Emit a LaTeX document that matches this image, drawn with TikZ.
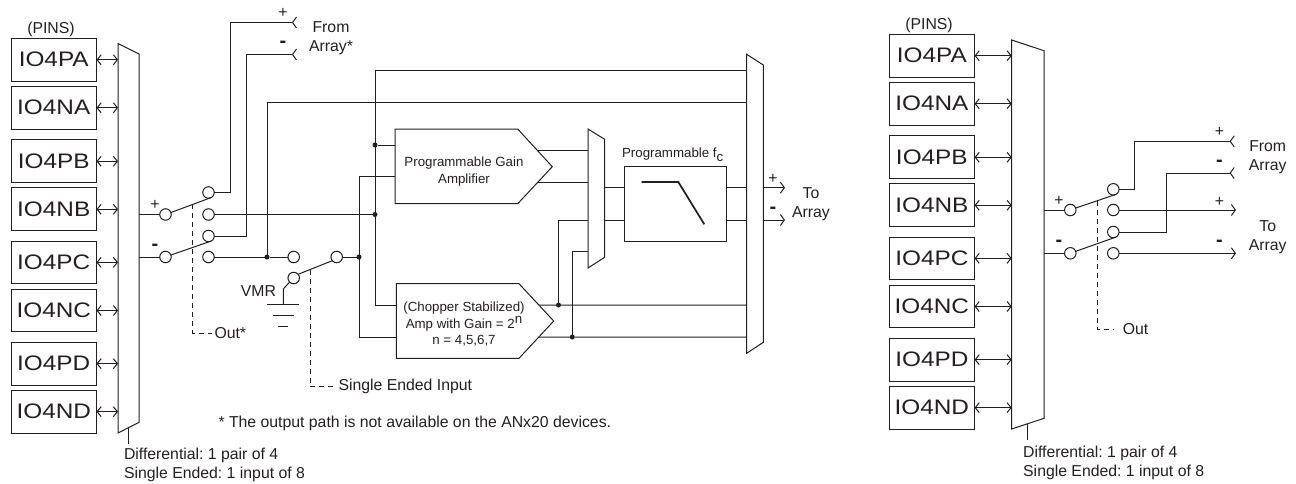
\documentclass[tikz,border=0pt]{standalone}
\usepackage{fontspec}
\setmainfont{Liberation Sans}
\newfontfamily\pinfont[FakeStretch=1.16]{Liberation Sans}
\usetikzlibrary{arrows.meta,positioning}
\definecolor{ink}{HTML}{231F20}
\frenchspacing
\newcommand{\lblfont}{\fontsize{15.8}{19}\selectfont}
\newcommand{\ampfont}{\fontsize{13.3}{16.5}\selectfont}
\tikzset{
  pinbox/.style={draw=ink, minimum width=85.5pt, minimum height=42.7pt, inner sep=0pt, outer sep=0pt, text=ink, font=\pinfont\fontsize{21}{24}\selectfont},
  contact/.style={draw=ink, circle, fill=white, minimum size=11.5pt, inner sep=0pt, outer sep=0pt},
  junction/.style={fill=ink, circle, minimum size=5pt, inner sep=0pt, outer sep=0pt},
  lbl/.style={font=\lblfont, text=ink, inner sep=0pt, yshift=-1.5pt},
  signlbl/.style={font=\lblfont, text=ink, inner sep=0pt, yshift=-2pt},
  minuslbl/.style={font=\fontsize{20}{20}\selectfont\bfseries, text=ink, inner sep=0pt, yshift=-2pt},
  amptxt/.style={font=\ampfont, text=ink, inner sep=0pt, align=center, yshift=-1.5pt},
  pinarrow/.style={{Straight Barb[length=4pt,width=10pt]}-{Straight Barb[length=4pt,width=10pt]}},
  outarrow/.style={-{Straight Barb[length=4pt,width=11pt]}},
  inarrow/.style={-{Straight Barb[reversed,length=4pt,width=11pt]}},
  ctrl/.style={dash pattern=on 5pt off 4pt}
}

\begin{document}
\begin{tikzpicture}[x=1pt,y=-1pt,line width=1pt,color=ink]
\useasboundingbox (0,0) rectangle (1296,483);

% Pins, left
\node[lbl] (pinsa) at (51,28) {(PINS)};
\node[pinbox] (pa) at (53.75,59.75) {IO4PA};
\node[pinbox] (na) at (53.75,107.75) {IO4NA};
\node[pinbox] (pb) at (53.75,161.25) {IO4PB};
\node[pinbox] (nb) at (53.75,209.25) {IO4NB};
\node[pinbox] (pc) at (53.75,262.35) {IO4PC};
\node[pinbox] (nc) at (53.75,310.5) {IO4NC};
\node[pinbox] (pd) at (53.75,363.65) {IO4PD};
\node[pinbox] (nd) at (53.75,411.65) {IO4ND};

% Input mux, left
\coordinate (ma) at (118,43.5);
\coordinate (mb) at (139,54);
\draw (ma)--(mb)--(139,422.3)-- coordinate[pos=.5] (mtick) (118,433)--cycle;
\draw[pinarrow] (pa.east)--(pa.east -| ma);
\draw[pinarrow] (na.east)--(na.east -| ma);
\draw[pinarrow] (pb.east)--(pb.east -| ma);
\draw[pinarrow] (nb.east)--(nb.east -| ma);
\draw[pinarrow] (pc.east)--(pc.east -| ma);
\draw[pinarrow] (nc.east)--(nc.east -| ma);
\draw[pinarrow] (pd.east)--(pd.east -| ma);
\draw[pinarrow] (nd.east)--(nd.east -| ma);
\node[lbl, anchor=north west, align=left] (mtxt) at (123.5,446.5) {Differential: 1 pair of 4\\Single Ended: 1 input of 8};
\draw (mtick)--++(0,16);

% Switch, left
\node[contact] (swp) at (165.5,214.5) {};
\node[contact] (swn) at (165.5,257) {};
\node[contact] (cpa) at (208.5,192.5) {};
\node[contact] (cpb) at (208.5,214.5) {};
\node[contact] (cna) at (208.5,236) {};
\node[contact] (cnb) at (208.5,257) {};
\node[signlbl] (plsw) at (155,203) {+};
\node[minuslbl] (mnsw) at (155,245) {-};
\draw (swp.west -| mb)--(swp.west);
\draw (swn.west -| mb)--(swn.west);
\draw (swp.20)-- coordinate[pos=.54] (blp) (cpa.-60);
\draw (swn.20)-- coordinate[pos=.54] (bln) (cna.-60);
\node[lbl, anchor=west] (outa) at (214,332) {Out*};
\draw[ctrl, shorten >=2pt] (blp) |- (outa.west);

% From array, left
\coordinate (fp) at (297,22.5);
\coordinate (fn) at (297,54.5);
\draw[inarrow] (cpa.east)-|(230,22.5)--(fp);
\draw[inarrow] (cna.east)-|(246,54.5)--(fn);
\node[signlbl] (plfa) at (283,11) {+};
\node[minuslbl] (mnfa) at (283,42.5) {-};
\node[lbl, align=center] (froma) at (331,37) {From\\Array*};

% Big mux and lines, left
\coordinate (bl) at (746.7,54.3);
\coordinate (br) at (763.3,65);
\draw (bl)--(br)--(763.3,342.3)--(746.7,353.3)--cycle;
\node[junction] (jp) at (375,145) {};
\node[junction] (jq) at (375,214.5) {};
\node[junction] (jv) at (267,257) {};
\node[junction] (js) at (359,257) {};
\coordinate (lt1) at (746.7,70);
\coordinate (lt2) at (746.7,102.5);
\coordinate (ch1) at (396.3,305);
\coordinate (ch2) at (396.3,337);
\coordinate (pg1) at (395,145);
\coordinate (pg2) at (395,176.7);
\draw (cpb.east)--(jq);
\draw (lt1)--(lt1 -| jp)|-(ch1);
\draw (jv)|-(lt2);
\draw (pg2)--(pg2 -| js)|-(ch2);
\draw (jp)--(pg1);

% VMR selector
\node[contact] (csa) at (293.7,257) {};
\node[contact] (cvm) at (293.7,278) {};
\node[contact] (cso) at (336.7,257) {};
\node[lbl] (vmr) at (258.5,289.7) {VMR};
\draw (cnb.east)--(jv)--(csa.west);
\draw (cso.east)--(js);
\draw (cvm.40)-- coordinate[pos=.35] (blv) (cso.220);
\draw (cvm.225)--(283.3,289)--(283.3,304.7);
\draw (267,304.7)--(299,304.7);
\draw (272.5,315.7)--(294,315.7);
\draw (278,326.3)--(288,326.3);
\node[lbl, anchor=west] (sein) at (338,385) {Single Ended Input};
\draw[ctrl, shorten >=2pt] (blv) |- (sein.west);
\node[lbl, anchor=west] (note) at (218,422) {* The output path is not available on the ANx20 devices.};

% Amplifiers
\draw (395,129)--(517.7,129)-- coordinate[pos=.56] (po1) (552.3,166.7)-- coordinate[pos=.44] (po2) (517.7,203.7)--(395,203.7)--cycle;
\node[amptxt] (pgatxt) at (464,170) {Programmable Gain\\Amplifier};
\draw (396.3,283.7)--(519,283.7)-- coordinate[pos=.571] (co1) (553.7,321)-- coordinate[pos=.43] (co2) (519,358.3)--(396.3,358.3)--cycle;
\node[amptxt] (chtxt) at (464,323) {(Chopper Stabilized)\\Amp with Gain = 2\raisebox{5pt}{n}\\n = 4,5,6,7};

% Inner mux
\coordinate (il) at (588,129);
\coordinate (ir) at (604.7,139.3);
\draw (il)--(ir)--(604.7,257.3)--(588,268)--cycle;
\draw (po1)--(po1 -| il);
\draw (po2)--(po2 -| il);
\node[junction] (jc) at (558.5,305) {};
\node[junction] (jd) at (572.3,337) {};
\draw (co1)--(jc)--(jc -| bl);
\draw (co2)--(jd)--(jd -| bl);
\coordinate (i3) at (588,220);
\coordinate (i4) at (588,251.7);
\draw (i3)--(i3 -| jc)--(jc);
\draw (i4)--(i4 -| jd)--(jd);

% Filter
\node[draw=ink, minimum width=101.7pt, minimum height=74.7pt, inner sep=0pt, outer sep=0pt] (fil) at (675.15,203.65) {};
\node[amptxt] (filtxt) at (672.7,153) {Programmable f\raisebox{-4pt}{c}};
\draw[line width=1.7pt] (641.7,182)--(678.3,182)--(704.3,224.3);
\coordinate (tp) at (785,187.7);
\coordinate (tn) at (785,220);
\draw (tp -| ir)--(tp -| fil.west);
\draw (tn -| ir)--(tn -| fil.west);
\draw (tp -| fil.east)--(tp -| bl);
\draw (tn -| fil.east)--(tn -| bl);
\draw[outarrow] (tp -| br)--(tp);
\draw[outarrow] (tn -| br)--(tn);
\node[signlbl] (plto) at (773,176.7) {+};
\node[minuslbl] (mnto) at (773,208) {-};
\node[lbl, align=center] (toa) at (811,202.5) {To\\Array};

% Pins, right
\node[lbl] (pinsb) at (929,24) {(PINS)};
\node[pinbox] (rpa) at (931.85,55.75) {IO4PA};
\node[pinbox] (rna) at (931.85,103.75) {IO4NA};
\node[pinbox] (rpb) at (931.85,157.25) {IO4PB};
\node[pinbox] (rnb) at (931.85,205.25) {IO4NB};
\node[pinbox] (rpc) at (931.85,258.35) {IO4PC};
\node[pinbox] (rnc) at (931.85,306.5) {IO4NC};
\node[pinbox] (rpd) at (931.85,359.65) {IO4PD};
\node[pinbox] (rnd) at (931.85,407.65) {IO4ND};

% Input mux, right
\coordinate (ra) at (1011.7,40);
\coordinate (rb) at (1044,50.7);
\draw (ra)--(rb)--(1044,418.3)-- coordinate[pos=.5] (rtick) (1011.7,429)--cycle;
\draw[pinarrow] (rpa.east)--(rpa.east -| ra);
\draw[pinarrow] (rna.east)--(rna.east -| ra);
\draw[pinarrow] (rpb.east)--(rpb.east -| ra);
\draw[pinarrow] (rnb.east)--(rnb.east -| ra);
\draw[pinarrow] (rpc.east)--(rpc.east -| ra);
\draw[pinarrow] (rnc.east)--(rnc.east -| ra);
\draw[pinarrow] (rpd.east)--(rpd.east -| ra);
\draw[pinarrow] (rnd.east)--(rnd.east -| ra);
\node[lbl, anchor=north west, align=left] (rtxt) at (1022.7,443.7) {Differential: 1 pair of 4\\Single Ended: 1 input of 8};
\draw (rtick)--++(0,16);

% Switch, right
\node[contact] (rswp) at (1070.3,210) {};
\node[contact] (rswn) at (1070.3,253.3) {};
\node[contact] (rcpa) at (1113.3,189.3) {};
\node[contact] (rcpb) at (1113.3,210) {};
\node[contact] (rcna) at (1113.3,232) {};
\node[contact] (rcnb) at (1113.3,253.3) {};
\node[signlbl] (rplsw) at (1059,199) {+};
\node[minuslbl] (rmnsw) at (1059,241.5) {-};
\draw (rswp.west -| rb)--(rswp.west);
\draw (rswn.west -| rb)--(rswn.west);
\draw (rswp.20)-- coordinate[pos=.53] (rblp) (rcpa.-60);
\draw (rswn.20)-- coordinate[pos=.53] (rbln) (rcna.-60);
\node[lbl, anchor=west] (outb) at (1122.3,327.7) {Out};
\draw[ctrl, shorten >=8pt] (rblp) |- (outb.west);

% Array side, right
\coordinate (rfp) at (1234.7,141.3);
\coordinate (rfn) at (1234.7,173);
\coordinate (rtp) at (1236,210);
\coordinate (rtn) at (1236,253.3);
\draw[inarrow] (rcpa.east)-|(1134.3,141.3)--(rfp);
\draw[inarrow] (rcna.east)-|(1166.3,173)--(rfn);
\draw[outarrow] (rcpb.east)--(rtp);
\draw[outarrow] (rcnb.east)--(rtn);
\node[signlbl] (rplf) at (1219.5,130) {+};
\node[minuslbl] (rmnf) at (1219.5,161) {-};
\node[signlbl] (rplt) at (1219.5,199.5) {+};
\node[minuslbl] (rmnt) at (1219.5,241) {-};
\node[lbl, align=center] (fromb) at (1267.7,156) {From\\Array};
\node[lbl, align=center] (tob) at (1267.7,236) {To\\Array};

\end{tikzpicture}
\end{document}
